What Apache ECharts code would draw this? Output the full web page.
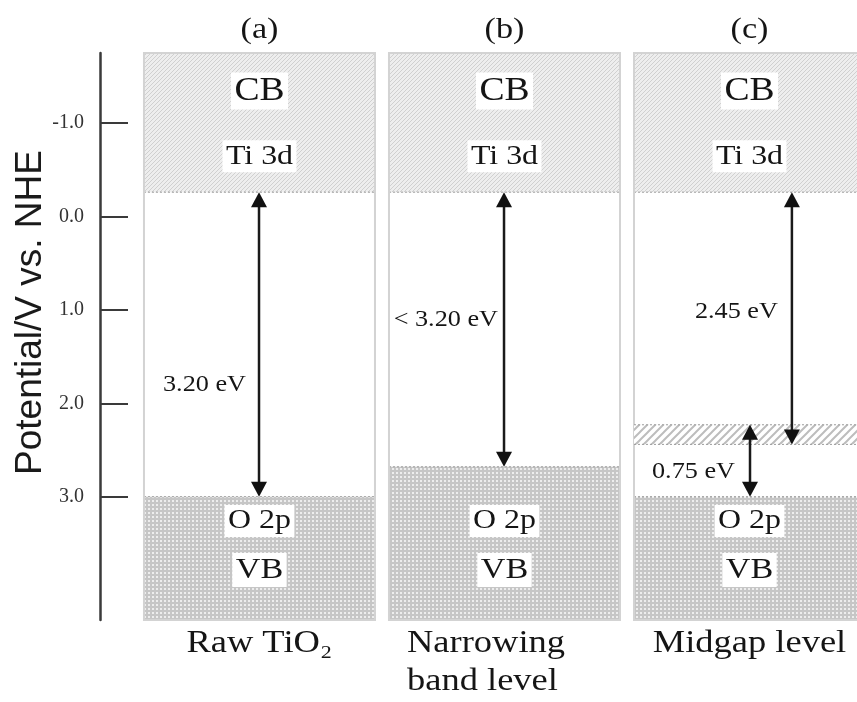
<!DOCTYPE html>
<html>
<head>
<meta charset="utf-8">
<script src="https://cdn.jsdelivr.net/npm/echarts@6/dist/echarts.min.js"></script>
<style>
  html, body { margin: 0; padding: 0; background: #fff; }
  #chart { width: 857px; height: 702px; }
</style>
</head>
<body>
<div id="chart"></div>
<script>
// Band edges of TiO2 in V vs. NHE (three cases)
const panelTitles = ['(a)', '(b)', '(c)'];
const panelNames = ['Raw TiO\u2082', 'Narrowing\nband level', 'Midgap level'];
const cbEdge = [-0.26, -0.26, -0.26];   // bottom of the conduction band (Ti 3d)
const vbEdge = [3.0, 2.68, 3.0];        // top of the valence band (O 2p)
const midgapPanel = 2;
const midgapBand = [2.23, 2.44];        // intermediate level in case (c)

// Gap arrows: x in panel units, from / to in V
const gapLabels = ['3.20 eV', '< 3.20 eV', '2.45 eV', '0.75 eV'];
const gapArrowX = [0.494, 1.494, 2.669, 2.498];
const gapFrom = [cbEdge[0], cbEdge[1], cbEdge[2], midgapBand[0]];
const gapTo = [vbEdge[0], vbEdge[1], midgapBand[1], vbEdge[2]];

const yTicks = [-1, 0, 1, 2, 3];
const yRange = [-1.75, 4.32];
const xRange = [-0.155, 3];

// caption placement beside each arrow: height (V) and gap to the shaft (px)
const gapLabelAt = [1.8, 1.11, 1.02, 2.74];
const gapLabelDx = [13, 6, 14, 15];

const SERIF = '"Liberation Serif", "Times New Roman", serif';
const INK = '#151515';
const WIDEN = 1.14;   // the serif captions are set slightly extended

function makePattern(size, draw) {
  const c = document.createElement('canvas');
  c.width = size; c.height = size;
  draw(c.getContext('2d'), size);
  return { image: c, repeat: 'repeat' };
}
// fine diagonal weave for the conduction band
const cbFill = makePattern(4, (g, s) => {
  g.fillStyle = '#eeeeee'; g.fillRect(0, 0, s, s);
  g.fillStyle = '#d0d0d0';
  for (let k = 0; k < s; k++) g.fillRect(k, s - 1 - k, 1, 1);
});
// dotted grey for the valence band
const vbFill = makePattern(4, (g, s) => {
  g.fillStyle = '#c6c6c6'; g.fillRect(0, 0, s, s);
  g.fillStyle = '#ededed'; g.fillRect(0, 0, 2, 2);
});
// open hatching for the midgap level
const midFill = makePattern(8, (g, s) => {
  g.fillStyle = '#ffffff'; g.fillRect(0, 0, s, s);
  g.strokeStyle = '#bdbdbd'; g.lineWidth = 2;
  g.beginPath();
  g.moveTo(-2, s + 2); g.lineTo(s + 2, -2);
  g.moveTo(-2, 2); g.lineTo(2, -2);
  g.moveTo(s - 2, s + 2); g.lineTo(s + 2, s - 2);
  g.stroke();
});

function panelBounds(api, i) {
  const a = api.coord([i, yRange[0]]);
  const b = api.coord([i + 1, yRange[1]]);
  return { x0: a[0] + 6, x1: b[0] - 8, top: a[1], bottom: b[1] };
}

function label(text, x, y, size, extra) {
  return {
    type: 'text',
    x: x, y: y, scaleX: WIDEN,
    style: Object.assign({
      text: text, x: 0, y: 0, fill: INK,
      fontFamily: SERIF, fontSize: size,
      align: 'center', verticalAlign: 'middle'
    }, extra || {})
  };
}

function dashed(x0, x1, y) {
  return {
    type: 'line',
    shape: { x1: x0, y1: y, x2: x1, y2: y },
    style: { stroke: '#9a9a9a', lineWidth: 1, lineDash: [2, 2] }
  };
}

function renderPanel(params, api) {
  const i = api.value(0);
  const p = panelBounds(api, i);
  const w = p.x1 - p.x0;
  const cx = (p.x0 + p.x1) / 2;
  const cbY = api.coord([i, api.value(1)])[1];
  const vbY = api.coord([i, api.value(2)])[1];
  const boxed = { backgroundColor: '#ffffff', padding: [2, 3] };
  const name = panelNames[i];
  const multi = name.indexOf('\n') >= 0;
  return {
    type: 'group',
    children: [
      { type: 'rect', shape: { x: p.x0, y: p.top, width: w, height: p.bottom - p.top },
        style: { fill: '#ffffff' } },
      { type: 'rect', shape: { x: p.x0, y: p.top, width: w, height: cbY - p.top },
        style: { fill: cbFill } },
      { type: 'rect', shape: { x: p.x0, y: vbY, width: w, height: p.bottom - vbY },
        style: { fill: vbFill } },
      dashed(p.x0, p.x1, cbY),
      dashed(p.x0, p.x1, vbY),
      { type: 'rect', shape: { x: p.x0, y: p.top, width: w, height: p.bottom - p.top },
        style: { fill: 'none', stroke: '#d3d3d3', lineWidth: 2 } },
      label('CB', cx, p.top + 38, 33, boxed),
      label('Ti 3d', cx, cbY - 36, 28, boxed),
      label('O 2p', cx, p.bottom - 99, 28, boxed),
      label('VB', cx, p.bottom - 50, 30, boxed),
      label(panelTitles[i], cx, 30, 30),
      label(name, multi ? p.x0 + 18 : cx, p.bottom + 5, 32,
        { verticalAlign: 'top', lineHeight: 38, align: multi ? 'left' : 'center' })
    ]
  };
}

function renderMidgap(params, api) {
  const p = panelBounds(api, api.value(0));
  const y0 = api.coord([api.value(0), api.value(1)])[1];
  const y1 = api.coord([api.value(0), api.value(2)])[1];
  return {
    type: 'group',
    children: [
      { type: 'rect', shape: { x: p.x0, y: y0, width: p.x1 - p.x0, height: y1 - y0 },
        style: { fill: midFill } },
      dashed(p.x0, p.x1, y0),
      dashed(p.x0, p.x1, y1)
    ]
  };
}

function renderArrow(params, api) {
  const k = params.dataIndex;
  const x = api.coord([api.value(0), 0])[0];
  const yA = api.coord([api.value(0), api.value(1)])[1];
  const yB = api.coord([api.value(0), api.value(2)])[1];
  const yT = api.coord([api.value(0), api.value(3)])[1];
  const hw = 8, hh = 15;
  const fill = { fill: '#111' };
  return {
    type: 'group',
    children: [
      { type: 'line', shape: { x1: x, y1: yA + hh - 1, x2: x, y2: yB - hh + 1 },
        style: { stroke: '#1a1a1a', lineWidth: 2.5 } },
      { type: 'polygon', shape: { points: [[x, yA], [x - hw, yA + hh], [x + hw, yA + hh]] }, style: fill },
      { type: 'polygon', shape: { points: [[x, yB], [x - hw, yB - hh], [x + hw, yB - hh]] }, style: fill },
      label(gapLabels[k], x - gapLabelDx[k], yT, 23, { align: 'right' })
    ]
  };
}

const chart = echarts.init(document.getElementById('chart'), null, { renderer: 'canvas' });

chart.setOption({
  backgroundColor: '#ffffff',
  animation: false,
  grid: { left: 100, top: 53, width: 773, height: 567, outerBoundsMode: 'none', containLabel: false },
  xAxis: { type: 'value', min: xRange[0], max: xRange[1], show: false },
  yAxis: {
    type: 'value', inverse: true, min: yRange[0], max: yRange[1],
    name: 'Potential/V vs. NHE', nameLocation: 'middle', nameRotate: 90, nameGap: 51,
    nameMoveOverlap: false,
    nameTextStyle: {
      fontFamily: '"Liberation Sans", Arial, sans-serif', fontSize: 37, color: '#1a1a1a',
      padding: [0, 0, 0, 48]
    },
    axisLine: { show: true, onZero: false, lineStyle: { color: '#3a3a3a', width: 2.5 } },
    axisTick: { show: true, inside: true, length: 28, customValues: yTicks,
      lineStyle: { color: '#3a3a3a', width: 2 } },
    axisLabel: { customValues: yTicks, formatter: v => v.toFixed(1), margin: 16,
      fontFamily: SERIF, fontSize: 20, color: '#333' },
    splitLine: { show: false }
  },
  series: [
    {
      type: 'custom', renderItem: renderPanel, silent: true,
      data: panelTitles.map((t, i) => [i, cbEdge[i], vbEdge[i]])
    },
    {
      type: 'custom', renderItem: renderMidgap, silent: true,
      data: [[midgapPanel, midgapBand[0], midgapBand[1]]]
    },
    {
      type: 'custom', renderItem: renderArrow, silent: true,
      data: gapLabels.map((t, k) => [gapArrowX[k], gapFrom[k], gapTo[k], gapLabelAt[k]])
    }
  ]
});
</script>
</body>
</html>
